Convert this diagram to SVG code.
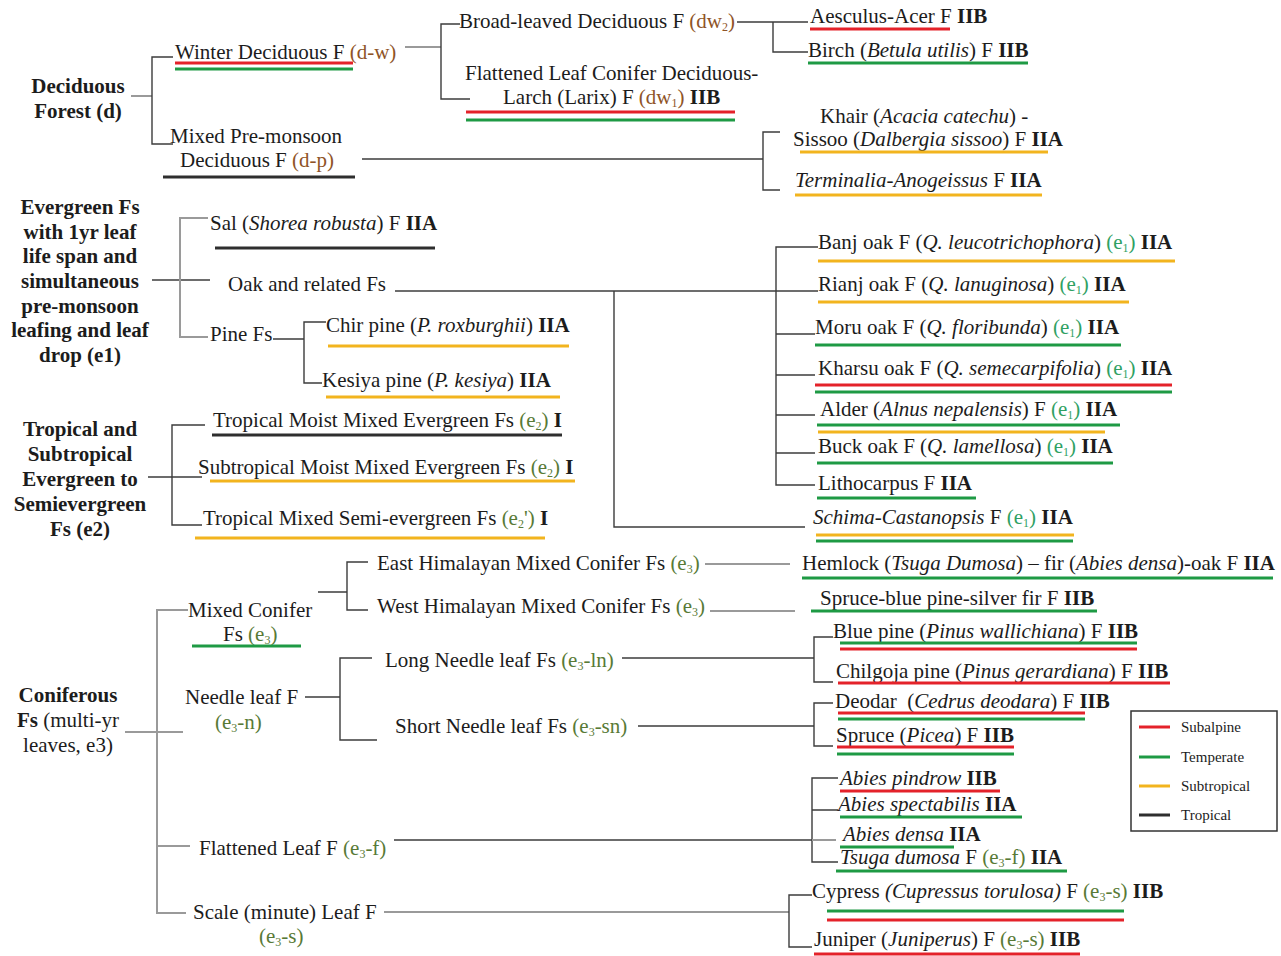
<svg xmlns="http://www.w3.org/2000/svg" width="1281" height="956" viewBox="0 0 1281 956">
<style>
text{font-family:"Liberation Serif","Times New Roman",serif;font-size:21px;fill:#1c1c1c}
.b{font-weight:bold}
.i{font-style:italic}
.br{fill:#8f5427}
.g1{fill:#2fa163}
.ol{fill:#587a36}
.s{font-size:12px;baseline-shift:-3px}
.lg{font-size:15px}
.c{fill:none;stroke:#3c3c3c;stroke-width:1.4}
.cg{fill:none;stroke:#9a9a9a;stroke-width:2}
.ur{stroke:#e4222a;stroke-width:3}
.ug{stroke:#1e9a44;stroke-width:3}
.uy{stroke:#f2b41e;stroke-width:3}
.uk{stroke:#2e2e2e;stroke-width:3}
</style>
<rect width="1281" height="956" fill="#fff"/>
<g id="connectors">
<path class="cg" d="M131,96 H152"/>
<path class="c" d="M173,57 H152 V144 H173"/>
<path class="cg" d="M405,47 H441"/>
<path class="c" d="M460,24 H441 V99 H470"/>
<path class="c" d="M737,22 H808 M773,22 V52 H808"/>
<path class="c" d="M362,159 H763 M780,132 H763 V190 H780"/>
<path class="c" d="M152,280 H210"/>
<path class="cg" d="M208,218 H180 V337 H208"/>
<path class="c" d="M395,291 H818"/>
<path class="c" d="M818,247 H776 V485 H815 M776,334 H815 M776,375 H815 M776,415 H815 M776,453 H815"/>
<path class="c" d="M614,291 V527 H805"/>
<path class="c" d="M273,339 H304 M326,322 H304 V383 H322"/>
<path class="c" d="M148,477 H202 M205,425 H172 V525 H202"/>
<path class="cg" d="M125,732 H183 M188,610 H157 V913 H186 M157,846 H190"/>
<path class="c" d="M318,592 H347 M368,562 H347 V610 H368"/>
<path class="cg" d="M705,564 H790 M710,611 H795"/>
<path class="c" d="M305,697 H340 M372,658 H340 V740 H377"/>
<path class="c" d="M622,658 H814 M833,637 H814 V682 H833"/>
<path class="c" d="M638,726 H814 M833,703 H814 V746 H833"/>
<path class="c" d="M394,840 H812 M838,778 H812 V862 H838 M812,810 H838"/>
<path class="cg" d="M812,840 H836"/>
<path class="cg" d="M384,912 H789"/>
<path class="c" d="M812,895 H789 V947 H812"/>
</g>
<g id="deciduous"><text class="b" text-anchor="middle" x="78" y="93">Deciduous</text><text class="b" text-anchor="middle" x="78" y="118">Forest (d)</text></g>
<g id="winter"><text x="175" y="59">Winter Deciduous F <tspan class="br">(d-w)</tspan></text><line class="ur" x1="175" y1="63" x2="353" y2="63"/><line class="ug" x1="175" y1="69" x2="353" y2="69"/></g>
<g id="premonsoon"><text x="170" y="143">Mixed Pre-monsoon</text><text x="180" y="167">Deciduous F <tspan class="br">(d-p)</tspan></text><line class="uk" x1="163" y1="177" x2="355" y2="177"/></g>
<g id="broadleaved"><text x="459" y="28">Broad-leaved Deciduous F <tspan class="br">(dw<tspan class="s">2</tspan>)</tspan></text></g>
<g id="larch"><text x="465" y="80">Flattened Leaf Conifer Deciduous-</text><text x="503" y="104">Larch (Larix) F <tspan class="br">(dw<tspan class="s">1</tspan>)</tspan> <tspan class="b">IIB</tspan></text><line class="ur" x1="466" y1="112" x2="735" y2="112"/><line class="ug" x1="466" y1="120" x2="735" y2="120"/></g>
<g id="aesculus"><text x="810" y="23">Aesculus-Acer F <tspan class="b">IIB</tspan></text><line class="ur" x1="810" y1="29" x2="950" y2="29"/></g>
<g id="birch"><text x="808" y="57">Birch (<tspan class="i">Betula utilis</tspan>) F <tspan class="b">IIB</tspan></text><line class="ug" x1="808" y1="63" x2="1028" y2="63"/></g>
<g id="khair"><text x="820" y="123">Khair (<tspan class="i">Acacia catechu</tspan>) -</text><text x="793" y="146">Sissoo (<tspan class="i">Dalbergia sissoo</tspan>) F <tspan class="b">IIA</tspan></text><line class="uy" x1="800" y1="152" x2="1048" y2="152"/></g>
<g id="terminalia"><text x="795" y="187"><tspan class="i">Terminalia-Anogeissus</tspan> F <tspan class="b">IIA</tspan></text><line class="uy" x1="795" y1="195" x2="1042" y2="195"/></g>
<g id="evergreen"><text class="b" text-anchor="middle" x="80" y="214">Evergreen Fs</text><text class="b" text-anchor="middle" x="80" y="239">with 1yr leaf</text><text class="b" text-anchor="middle" x="80" y="263">life span and</text><text class="b" text-anchor="middle" x="80" y="288">simultaneous</text><text class="b" text-anchor="middle" x="80" y="313">pre-monsoon</text><text class="b" text-anchor="middle" x="80" y="337">leafing and leaf</text><text class="b" text-anchor="middle" x="80" y="362">drop (e1)</text></g>
<g id="sal"><text x="210" y="230">Sal (<tspan class="i">Shorea robusta</tspan>) F <tspan class="b">IIA</tspan></text><line class="uk" x1="215" y1="248" x2="435" y2="248"/></g>
<g id="oak"><text x="228" y="291">Oak and related Fs</text></g>
<g id="pine"><text x="210" y="341">Pine Fs</text></g>
<g id="chir"><text x="326" y="332">Chir pine (<tspan class="i">P. roxburghii</tspan>) <tspan class="b">IIA</tspan></text><line class="uy" x1="328" y1="346" x2="569" y2="346"/></g>
<g id="kesiya"><text x="322" y="387">Kesiya pine (<tspan class="i">P. kesiya</tspan>) <tspan class="b">IIA</tspan></text><line class="uy" x1="326" y1="397" x2="560" y2="397"/></g>
<g id="banj"><text x="818" y="249">Banj oak F (<tspan class="i">Q. leucotrichophora</tspan>) <tspan class="g1">(e<tspan class="s">1</tspan>)</tspan> <tspan class="b">IIA</tspan></text><line class="uy" x1="818" y1="261" x2="1175" y2="261"/></g>
<g id="rianj"><text x="818" y="291">Rianj oak F (<tspan class="i">Q. lanuginosa</tspan>) <tspan class="g1">(e<tspan class="s">1</tspan>)</tspan> <tspan class="b">IIA</tspan></text><line class="uy" x1="818" y1="302" x2="1129" y2="302"/></g>
<g id="moru"><text x="815" y="334">Moru oak F (<tspan class="i">Q. floribunda</tspan>) <tspan class="g1">(e<tspan class="s">1</tspan>)</tspan> <tspan class="b">IIA</tspan></text><line class="ug" x1="815" y1="345" x2="1121" y2="345"/></g>
<g id="kharsu"><text x="818" y="375">Kharsu oak F (<tspan class="i">Q. semecarpifolia</tspan>) <tspan class="g1">(e<tspan class="s">1</tspan>)</tspan> <tspan class="b">IIA</tspan></text><line class="ur" x1="815" y1="385" x2="1172" y2="385"/><line class="ug" x1="815" y1="392" x2="1172" y2="392"/></g>
<g id="alder"><text x="820" y="416">Alder (<tspan class="i">Alnus nepalensis</tspan>) F <tspan class="g1">(e<tspan class="s">1</tspan>)</tspan> <tspan class="b">IIA</tspan></text><line class="ug" x1="817" y1="425" x2="1120" y2="425"/><line class="uy" x1="818" y1="432" x2="1105" y2="432"/></g>
<g id="buck"><text x="818" y="453">Buck oak F (<tspan class="i">Q. lamellosa</tspan>) <tspan class="g1">(e<tspan class="s">1</tspan>)</tspan> <tspan class="b">IIA</tspan></text><line class="ug" x1="817" y1="463" x2="1113" y2="463"/></g>
<g id="lithocarpus"><text x="818" y="490">Lithocarpus F <tspan class="b">IIA</tspan></text><line class="ug" x1="817" y1="498" x2="976" y2="498"/></g>
<g id="schima"><text x="813" y="524"><tspan class="i">Schima-Castanopsis</tspan> F <tspan class="g1">(e<tspan class="s">1</tspan>)</tspan> <tspan class="b">IIA</tspan></text><line class="uy" x1="816" y1="535" x2="1074" y2="535"/><line class="ug" x1="816" y1="541" x2="1073" y2="541"/></g>
<g id="tropical"><text class="b" text-anchor="middle" x="80" y="436">Tropical and</text><text class="b" text-anchor="middle" x="80" y="461">Subtropical</text><text class="b" text-anchor="middle" x="80" y="486">Evergreen to</text><text class="b" text-anchor="middle" x="80" y="511">Semievergreen</text><text class="b" text-anchor="middle" x="80" y="536">Fs (e2)</text></g>
<g id="tropmoist"><text x="213" y="427">Tropical Moist Mixed Evergreen Fs <tspan class="ol">(e<tspan class="s">2</tspan>)</tspan> <tspan class="b">I</tspan></text><line class="uk" x1="212" y1="435" x2="562" y2="435"/></g>
<g id="subtropmoist"><text x="198" y="474">Subtropical Moist Mixed Evergreen Fs <tspan class="ol">(e<tspan class="s">2</tspan>)</tspan> <tspan class="b">I</tspan></text><line class="uy" x1="210" y1="481" x2="575" y2="481"/></g>
<g id="tropmixed"><text x="203" y="525">Tropical Mixed Semi-evergreen Fs <tspan class="ol">(e<tspan class="s">2</tspan>')</tspan> <tspan class="b">I</tspan></text><line class="uy" x1="195" y1="538" x2="545" y2="538"/></g>
<g id="coniferous"><text class="b" text-anchor="middle" x="68" y="702">Coniferous</text><text text-anchor="middle" x="68" y="727"><tspan class="b">Fs</tspan> (multi-yr</text><text text-anchor="middle" x="68" y="752">leaves, e3)</text></g>
<g id="mixedconifer"><text x="188" y="617">Mixed Conifer</text><text x="223" y="641">Fs <tspan class="ol">(e<tspan class="s">3</tspan>)</tspan></text><line class="ug" x1="192" y1="646" x2="301" y2="646"/></g>
<g id="easthim"><text x="377" y="570">East Himalayan Mixed Conifer Fs <tspan class="ol">(e<tspan class="s">3</tspan>)</tspan></text></g>
<g id="westhim"><text x="377" y="613">West Himalayan Mixed Conifer Fs <tspan class="ol">(e<tspan class="s">3</tspan>)</tspan></text></g>
<g id="hemlock"><text x="802" y="570">Hemlock (<tspan class="i">Tsuga Dumosa</tspan>) – fir (<tspan class="i">Abies densa</tspan>)-oak F <tspan class="b">IIA</tspan></text><line class="ug" x1="802" y1="578" x2="1273" y2="578"/></g>
<g id="spruceblue"><text x="820" y="605">Spruce-blue pine-silver fir F <tspan class="b">IIB</tspan></text><line class="ug" x1="811" y1="611" x2="1097" y2="611"/></g>
<g id="needle"><text x="185" y="704">Needle leaf F</text><text class="ol" x="215" y="729">(e<tspan class="s">3</tspan>-n)</text></g>
<g id="longneedle"><text x="385" y="667">Long Needle leaf Fs <tspan class="ol">(e<tspan class="s">3</tspan>-ln)</tspan></text></g>
<g id="shortneedle"><text x="395" y="733">Short Needle leaf Fs <tspan class="ol">(e<tspan class="s">3</tspan>-sn)</tspan></text></g>
<g id="bluepine"><text x="833" y="638">Blue pine (<tspan class="i">Pinus wallichiana</tspan>) F <tspan class="b">IIB</tspan></text><line class="ug" x1="840" y1="643" x2="1137" y2="643"/><line class="ur" x1="840" y1="649" x2="1137" y2="649"/></g>
<g id="chilgoja"><text x="836" y="678">Chilgoja pine (<tspan class="i">Pinus gerardiana</tspan>) F <tspan class="b">IIB</tspan></text><line class="ur" x1="838" y1="683" x2="1170" y2="683"/></g>
<g id="deodar"><text x="835" y="708">Deodar&#160; (<tspan class="i">Cedrus deodara</tspan>) F <tspan class="b">IIB</tspan></text><line class="ur" x1="838" y1="713" x2="1085" y2="713"/><line class="ug" x1="838" y1="719" x2="1085" y2="719"/></g>
<g id="spruce"><text x="836" y="742">Spruce (<tspan class="i">Picea</tspan>) F <tspan class="b">IIB</tspan></text><line class="ur" x1="837" y1="747" x2="1014" y2="747"/><line class="ug" x1="837" y1="754" x2="1014" y2="754"/></g>
<g id="flattened"><text x="199" y="855">Flattened Leaf F <tspan class="ol">(e<tspan class="s">3</tspan>-f)</tspan></text></g>
<g id="pindrow"><text x="840" y="785"><tspan class="i">Abies pindrow</tspan> <tspan class="b">IIB</tspan></text><line class="ur" x1="840" y1="791" x2="1000" y2="791"/></g>
<g id="spectabilis"><text x="838" y="811"><tspan class="i">Abies spectabilis</tspan> <tspan class="b">IIA</tspan></text><line class="ug" x1="840" y1="817" x2="1022" y2="817"/></g>
<g id="densa"><text x="843" y="841"><tspan class="i">Abies densa</tspan> <tspan class="b">IIA</tspan></text><line class="ug" x1="840" y1="847" x2="954" y2="847"/></g>
<g id="tsuga"><text x="840" y="864"><tspan class="i">Tsuga dumosa</tspan> F <tspan class="ol">(e<tspan class="s">3</tspan>-f)</tspan> <tspan class="b">IIA</tspan></text><line class="ug" x1="836" y1="871" x2="1067" y2="871"/></g>
<g id="scale"><text x="193" y="919">Scale (minute) Leaf F</text><text class="ol" x="259" y="943">(e<tspan class="s">3</tspan>-s)</text></g>
<g id="cypress"><text x="812" y="898">Cypress <tspan class="i">(Cupressus torulosa)</tspan> F <tspan class="ol">(e<tspan class="s">3</tspan>-s)</tspan> <tspan class="b">IIB</tspan></text><line class="ug" x1="827" y1="911" x2="1124" y2="911"/><line class="ur" x1="827" y1="920" x2="1124" y2="920"/></g>
<g id="juniper"><text x="814" y="946">Juniper (<tspan class="i">Juniperus</tspan>) F <tspan class="ol">(e<tspan class="s">3</tspan>-s)</tspan> <tspan class="b">IIB</tspan></text><line class="ur" x1="814" y1="954" x2="1080" y2="954"/></g>
<g id="legend"><rect x="1131" y="711" width="146" height="120" fill="none" stroke="#333" stroke-width="1.5"/><line class="ur" x1="1139" y1="727" x2="1170" y2="727"/><text class="lg" x="1181" y="732">Subalpine</text><line class="ug" x1="1139" y1="757" x2="1170" y2="757"/><text class="lg" x="1181" y="762">Temperate</text><line class="uy" x1="1139" y1="786" x2="1170" y2="786"/><text class="lg" x="1181" y="791">Subtropical</text><line class="uk" x1="1139" y1="815" x2="1170" y2="815"/><text class="lg" x="1181" y="820">Tropical</text></g>
</svg>
